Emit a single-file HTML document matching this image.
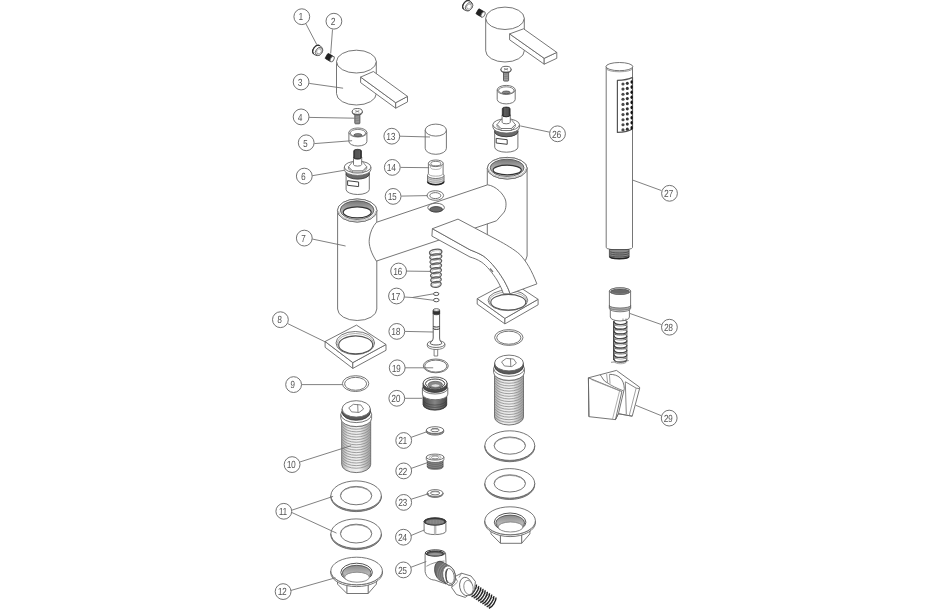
<!DOCTYPE html>
<html><head><meta charset="utf-8"><style>
html,body{margin:0;padding:0;background:#fff;width:950px;height:610px;overflow:hidden}
svg{display:block;font-family:"Liberation Sans",sans-serif;will-change:transform}
</style></head><body>
<svg width="950" height="610" viewBox="0 0 950 610">
<defs><linearGradient id="thg" x1="0" x2="1" y1="0" y2="0"><stop offset="0" stop-color="#aaa"/><stop offset="0.25" stop-color="#e8e8e8"/><stop offset="0.6" stop-color="#f0f0f0"/><stop offset="1" stop-color="#9a9a9a"/></linearGradient><linearGradient id="pwg" x1="0" x2="0" y1="0" y2="1"><stop offset="0" stop-color="#777"/><stop offset="0.6" stop-color="#bbb"/><stop offset="1" stop-color="#eee"/></linearGradient><linearGradient id="dkg" x1="0" x2="1" y1="0" y2="0"><stop offset="0" stop-color="#4a4a4a"/><stop offset="0.5" stop-color="#858585"/><stop offset="1" stop-color="#4a4a4a"/></linearGradient><linearGradient id="nthg" x1="0" x2="0" y1="0" y2="1"><stop offset="0" stop-color="#8a8a8a"/><stop offset="0.5" stop-color="#b5b5b5"/><stop offset="1" stop-color="#ddd"/></linearGradient></defs>
<rect width="950" height="610" fill="#fff"/>
<line x1="305.8" y1="23.6" x2="316.9" y2="44.8" stroke="#6a6a6a" stroke-width="0.85"/>
<circle cx="301.8" cy="16.7" r="7.9" fill="#fff" stroke="#6a6a6a" stroke-width="0.95"/>
<text transform="translate(300.7,20.4) skewX(-2) scale(0.8,1)" text-anchor="middle" font-size="10.3" fill="#555" font-family="Liberation Sans, sans-serif" letter-spacing="-0.3">1</text>
<line x1="332.5" y1="29.5" x2="330.7" y2="53.6" stroke="#6a6a6a" stroke-width="0.85"/>
<circle cx="333.9" cy="21.2" r="7.9" fill="#fff" stroke="#6a6a6a" stroke-width="0.95"/>
<text transform="translate(332.8,24.9) skewX(-2) scale(0.8,1)" text-anchor="middle" font-size="10.3" fill="#555" font-family="Liberation Sans, sans-serif" letter-spacing="-0.3">2</text>
<g transform="translate(318,50.7) rotate(35)">
<path d="M-1,-5.3 C-6,-5 -6.5,5 -1,5.3 L2,4.6 C5,3 5,-3 2,-4.6 Z" stroke="#444" stroke-width="0.9" fill="#fff" stroke-linejoin="round"/>
<path d="M-1.6,-5.1 C-6,-4.6 -6,4.6 -1.6,5.1" stroke="#333" stroke-width="1.2" fill="none" stroke-linejoin="round"/>
<ellipse cx="1.2" cy="0" rx="3.2" ry="4.3" fill="#fff" stroke="#555" stroke-width="0.8"/>
<polygon points="-0.6,-2 1.6,-3 3.4,-1 3,1.8 0.8,2.8 -1,1" stroke="#777" stroke-width="0.6" fill="none" stroke-linejoin="round"/>
</g>
<g transform="translate(329.9,57.8) rotate(30)">
<rect x="-4" y="-3" width="6.6" height="6" rx="0.8" fill="#222" stroke="#111" stroke-width="0.6"/>
<ellipse cx="2.6" cy="0" rx="1.7" ry="3" fill="#fff" stroke="#666" stroke-width="0.9"/>
</g>
<path d="M336.5,61.6 L336.5,93.6 A19.9,11.4 0 0 0 376.3,93.6 L376.3,61.6 Z" stroke="#666" stroke-width="0.9" fill="#fff" stroke-linejoin="round"/>
<ellipse cx="356.4" cy="61.6" rx="19.9" ry="11.4" fill="#fff" stroke="#666" stroke-width="0.9"/>
<polygon points="360.6,77.1 395.7,102.7 395.7,108.2 360.6,82.6" stroke="#666" stroke-width="0.9" fill="#fff" stroke-linejoin="round"/>
<polygon points="395.7,102.7 407.5,96.4 407.5,101.9 395.7,108.2" stroke="#666" stroke-width="0.9" fill="#fff" stroke-linejoin="round"/>
<polygon points="360.6,77.1 373.4,71.5 407.5,96.4 395.7,102.7" stroke="#666" stroke-width="0.9" fill="#fff" stroke-linejoin="round"/>
<line x1="309.2" y1="83.4" x2="343.1" y2="88.2" stroke="#6a6a6a" stroke-width="0.85"/>
<circle cx="301.1" cy="82" r="7.9" fill="#fff" stroke="#6a6a6a" stroke-width="0.95"/>
<text transform="translate(300,85.7) skewX(-2) scale(0.8,1)" text-anchor="middle" font-size="10.3" fill="#555" font-family="Liberation Sans, sans-serif" letter-spacing="-0.3">3</text>
<rect x="354.8" y="111.4" width="5.1" height="12.4" rx="0.8" fill="#a0a0a0" stroke="#444" stroke-width="0.8"/>
<line x1="354.9" y1="113.4" x2="359.8" y2="113.9" stroke="#666" stroke-width="0.5"/>
<line x1="354.9" y1="115.1" x2="359.8" y2="115.6" stroke="#666" stroke-width="0.5"/>
<line x1="354.9" y1="116.8" x2="359.8" y2="117.3" stroke="#666" stroke-width="0.5"/>
<line x1="354.9" y1="118.5" x2="359.8" y2="119" stroke="#666" stroke-width="0.5"/>
<line x1="354.9" y1="120.2" x2="359.8" y2="120.7" stroke="#666" stroke-width="0.5"/>
<line x1="354.9" y1="121.9" x2="359.8" y2="122.4" stroke="#666" stroke-width="0.5"/>
<path d="M352.3,111.4 A5,2.9 0 0 0 362.3,111.4 L362.3,112.4 A5,2.4 0 0 1 352.3,112.4 Z" stroke="#444" stroke-width="0.8" fill="#777" stroke-linejoin="round"/>
<ellipse cx="357.3" cy="111.4" rx="5" ry="2.9" fill="#fff" stroke="#555" stroke-width="0.9"/>
<line x1="355.3" y1="110.6" x2="359.3" y2="112.2" stroke="#777" stroke-width="0.8"/>
<line x1="355.3" y1="112.2" x2="359.3" y2="110.6" stroke="#777" stroke-width="0.8"/>
<line x1="309.2" y1="117.4" x2="354.6" y2="118.2" stroke="#6a6a6a" stroke-width="0.85"/>
<circle cx="301.1" cy="116.9" r="7.9" fill="#fff" stroke="#6a6a6a" stroke-width="0.95"/>
<text transform="translate(300,120.6) skewX(-2) scale(0.8,1)" text-anchor="middle" font-size="10.3" fill="#555" font-family="Liberation Sans, sans-serif" letter-spacing="-0.3">4</text>
<path d="M348.9,132.5 L348.9,141.5 A9,4.5 0 0 0 366.9,141.5 L366.9,132.5 Z" stroke="#666" stroke-width="0.9" fill="#fff" stroke-linejoin="round"/>
<ellipse cx="357.9" cy="132.5" rx="9" ry="4.5" fill="#fff" stroke="#666" stroke-width="0.9"/>
<ellipse cx="357.9" cy="133" rx="7.7" ry="3.6" fill="#fff" stroke="#666" stroke-width="0.8"/>
<path d="M353.9,135.1 A4,1.5 0 0 1 361.9,135.1 A4,1.2 0 0 1 353.9,135.1 Z" stroke="#444" stroke-width="0.7" fill="#888" stroke-linejoin="round"/>
<line x1="314.4" y1="143.6" x2="352.1" y2="140.7" stroke="#6a6a6a" stroke-width="0.85"/>
<circle cx="306.2" cy="142.8" r="7.9" fill="#fff" stroke="#6a6a6a" stroke-width="0.95"/>
<text transform="translate(305.1,146.5) skewX(-2) scale(0.8,1)" text-anchor="middle" font-size="10.3" fill="#555" font-family="Liberation Sans, sans-serif" letter-spacing="-0.3">5</text>
<path d="M346.1,174 L346.1,189.5 A11.6,5 0 0 0 369.3,189.5 L369.3,174 Z" stroke="#666" stroke-width="0.9" fill="#fff" stroke-linejoin="round"/>
<ellipse cx="357.7" cy="174" rx="11.6" ry="5" fill="#fff" stroke="#666" stroke-width="0.9"/>
<path d="M346.1,169.5 A11.6,5 0 0 0 369.3,169.5 L369.3,174 A11.6,5 0 0 1 346.1,174 Z" stroke="#333" stroke-width="0.7" fill="#6a6a6a" stroke-linejoin="round"/>
<polygon points="347.6,180.7 358.6,182 358.6,186.6 347.6,185.3" stroke="#444" stroke-width="1.0" fill="#fff" stroke-linejoin="round"/>
<path d="M344.3,167 L344.3,169.5 A13.3,5.9 0 0 0 370.9,169.5 L370.9,167 Z" stroke="#666" stroke-width="0.9" fill="#fff" stroke-linejoin="round"/>
<ellipse cx="357.6" cy="167" rx="13.3" ry="5.9" fill="#fff" stroke="#666" stroke-width="0.9"/>
<polygon points="348.5,166.8 352.4,170.8 362.8,170.8 366.7,166.8 366.7,168.8 362.8,172.8 352.4,172.8 348.5,168.8" stroke="#666" stroke-width="0.8" fill="#fff" stroke-linejoin="round"/>
<line x1="352.4" y1="170.8" x2="352.4" y2="172.8" stroke="#666" stroke-width="0.7"/>
<line x1="362.8" y1="170.8" x2="362.8" y2="172.8" stroke="#666" stroke-width="0.7"/>
<polygon points="348.5,166.8 352.6,161.7 362.6,161.7 366.7,166.8 362.8,170.8 352.4,170.8" stroke="#666" stroke-width="0.8" fill="#fff" stroke-linejoin="round"/>
<path d="M353.5,157.5 L353.5,164.5 A4.1,1.6 0 0 0 361.7,164.5 L361.7,157.5 Z" stroke="#666" stroke-width="0.9" fill="#fff" stroke-linejoin="round"/>
<ellipse cx="357.6" cy="157.5" rx="4.1" ry="1.6" fill="#fff" stroke="#666" stroke-width="0.9"/>
<path d="M353.7,151 Q353.7,149.3 357.6,149.3 Q361.5,149.3 361.5,151 L361.5,157.5 A3.9,1.5 0 0 1 353.7,157.5 Z" stroke="#222" stroke-width="0.7" fill="#3a3a3a" stroke-linejoin="round"/>
<line x1="355.8" y1="150.2" x2="355.8" y2="158.3" stroke="#888" stroke-width="0.5"/>
<line x1="357" y1="150.2" x2="357" y2="158.3" stroke="#888" stroke-width="0.5"/>
<line x1="358.2" y1="150.2" x2="358.2" y2="158.3" stroke="#888" stroke-width="0.5"/>
<line x1="359.4" y1="150.2" x2="359.4" y2="158.3" stroke="#888" stroke-width="0.5"/>
<line x1="312.3" y1="175.7" x2="344.3" y2="170.3" stroke="#6a6a6a" stroke-width="0.85"/>
<circle cx="304.3" cy="176.1" r="7.9" fill="#fff" stroke="#6a6a6a" stroke-width="0.95"/>
<text transform="translate(303.2,179.8) skewX(-2) scale(0.8,1)" text-anchor="middle" font-size="10.3" fill="#555" font-family="Liberation Sans, sans-serif" letter-spacing="-0.3">6</text>
<g transform="translate(468,6) rotate(35)">
<path d="M-1,-5.3 C-6,-5 -6.5,5 -1,5.3 L2,4.6 C5,3 5,-3 2,-4.6 Z" stroke="#444" stroke-width="0.9" fill="#fff" stroke-linejoin="round"/>
<path d="M-1.6,-5.1 C-6,-4.6 -6,4.6 -1.6,5.1" stroke="#333" stroke-width="1.2" fill="none" stroke-linejoin="round"/>
<ellipse cx="1.2" cy="0" rx="3.2" ry="4.3" fill="#fff" stroke="#555" stroke-width="0.8"/>
<polygon points="-0.6,-2 1.6,-3 3.4,-1 3,1.8 0.8,2.8 -1,1" stroke="#777" stroke-width="0.6" fill="none" stroke-linejoin="round"/>
</g>
<g transform="translate(480.8,13.2) rotate(30)">
<rect x="-4" y="-3" width="6.6" height="6" rx="0.8" fill="#222" stroke="#111" stroke-width="0.6"/>
<ellipse cx="2.6" cy="0" rx="1.7" ry="3" fill="#fff" stroke="#666" stroke-width="0.9"/>
</g>
<path d="M485.7,18.3 L485.7,50.8 A19.3,11.2 0 0 0 524.3,50.8 L524.3,18.3 Z" stroke="#666" stroke-width="0.9" fill="#fff" stroke-linejoin="round"/>
<ellipse cx="505" cy="18.3" rx="19.3" ry="11.2" fill="#fff" stroke="#666" stroke-width="0.9"/>
<polygon points="509.6,33.9 544.2,58.3 544.2,64.2 509.6,39.8" stroke="#666" stroke-width="0.9" fill="#fff" stroke-linejoin="round"/>
<polygon points="544.2,58.3 556.8,52.4 556.8,58.3 544.2,64.2" stroke="#666" stroke-width="0.9" fill="#fff" stroke-linejoin="round"/>
<polygon points="509.6,33.9 523.6,28.8 556.8,52.4 544.2,58.3" stroke="#666" stroke-width="0.9" fill="#fff" stroke-linejoin="round"/>
<rect x="503.5" y="69.2" width="5.1" height="11.9" rx="0.8" fill="#a0a0a0" stroke="#444" stroke-width="0.8"/>
<line x1="503.6" y1="71.2" x2="508.5" y2="71.7" stroke="#666" stroke-width="0.5"/>
<line x1="503.6" y1="72.9" x2="508.5" y2="73.4" stroke="#666" stroke-width="0.5"/>
<line x1="503.6" y1="74.6" x2="508.5" y2="75.1" stroke="#666" stroke-width="0.5"/>
<line x1="503.6" y1="76.3" x2="508.5" y2="76.8" stroke="#666" stroke-width="0.5"/>
<line x1="503.6" y1="78" x2="508.5" y2="78.5" stroke="#666" stroke-width="0.5"/>
<path d="M501,69.2 A5,2.9 0 0 0 511,69.2 L511,70.2 A5,2.4 0 0 1 501,70.2 Z" stroke="#444" stroke-width="0.8" fill="#777" stroke-linejoin="round"/>
<ellipse cx="506" cy="69.2" rx="5" ry="2.9" fill="#fff" stroke="#555" stroke-width="0.9"/>
<line x1="504" y1="68.4" x2="508" y2="70" stroke="#777" stroke-width="0.8"/>
<line x1="504" y1="70" x2="508" y2="68.4" stroke="#777" stroke-width="0.8"/>
<path d="M497.2,89.9 L497.2,99.4 A9,4.5 0 0 0 515.2,99.4 L515.2,89.9 Z" stroke="#666" stroke-width="0.9" fill="#fff" stroke-linejoin="round"/>
<ellipse cx="506.2" cy="89.9" rx="9" ry="4.5" fill="#fff" stroke="#666" stroke-width="0.9"/>
<ellipse cx="506.2" cy="90.4" rx="7.7" ry="3.6" fill="#fff" stroke="#666" stroke-width="0.8"/>
<path d="M502.2,92.5 A4,1.5 0 0 1 510.2,92.5 A4,1.2 0 0 1 502.2,92.5 Z" stroke="#444" stroke-width="0.7" fill="#888" stroke-linejoin="round"/>
<path d="M494.7,131.7 L494.7,147.2 A11.6,5 0 0 0 517.9,147.2 L517.9,131.7 Z" stroke="#666" stroke-width="0.9" fill="#fff" stroke-linejoin="round"/>
<ellipse cx="506.3" cy="131.7" rx="11.6" ry="5" fill="#fff" stroke="#666" stroke-width="0.9"/>
<path d="M494.7,127.2 A11.6,5 0 0 0 517.9,127.2 L517.9,131.7 A11.6,5 0 0 1 494.7,131.7 Z" stroke="#333" stroke-width="0.7" fill="#6a6a6a" stroke-linejoin="round"/>
<polygon points="496.2,138.4 507.2,139.7 507.2,144.3 496.2,143" stroke="#444" stroke-width="1.0" fill="#fff" stroke-linejoin="round"/>
<path d="M492.9,124.7 L492.9,127.2 A13.3,5.9 0 0 0 519.5,127.2 L519.5,124.7 Z" stroke="#666" stroke-width="0.9" fill="#fff" stroke-linejoin="round"/>
<ellipse cx="506.2" cy="124.7" rx="13.3" ry="5.9" fill="#fff" stroke="#666" stroke-width="0.9"/>
<polygon points="497.1,124.5 501,128.5 511.4,128.5 515.3,124.5 515.3,126.5 511.4,130.5 501,130.5 497.1,126.5" stroke="#666" stroke-width="0.8" fill="#fff" stroke-linejoin="round"/>
<line x1="501" y1="128.5" x2="501" y2="130.5" stroke="#666" stroke-width="0.7"/>
<line x1="511.4" y1="128.5" x2="511.4" y2="130.5" stroke="#666" stroke-width="0.7"/>
<polygon points="497.1,124.5 501.2,119.4 511.2,119.4 515.3,124.5 511.4,128.5 501,128.5" stroke="#666" stroke-width="0.8" fill="#fff" stroke-linejoin="round"/>
<path d="M502.1,115.2 L502.1,122.2 A4.1,1.6 0 0 0 510.3,122.2 L510.3,115.2 Z" stroke="#666" stroke-width="0.9" fill="#fff" stroke-linejoin="round"/>
<ellipse cx="506.2" cy="115.2" rx="4.1" ry="1.6" fill="#fff" stroke="#666" stroke-width="0.9"/>
<path d="M502.3,108.7 Q502.3,107 506.2,107 Q510.1,107 510.1,108.7 L510.1,115.2 A3.9,1.5 0 0 1 502.3,115.2 Z" stroke="#222" stroke-width="0.7" fill="#3a3a3a" stroke-linejoin="round"/>
<line x1="504.4" y1="107.9" x2="504.4" y2="116" stroke="#888" stroke-width="0.5"/>
<line x1="505.6" y1="107.9" x2="505.6" y2="116" stroke="#888" stroke-width="0.5"/>
<line x1="506.8" y1="107.9" x2="506.8" y2="116" stroke="#888" stroke-width="0.5"/>
<line x1="508" y1="107.9" x2="508" y2="116" stroke="#888" stroke-width="0.5"/>
<line x1="549.7" y1="132.2" x2="520.2" y2="125.9" stroke="#6a6a6a" stroke-width="0.85"/>
<circle cx="557.5" cy="133.8" r="7.9" fill="#fff" stroke="#6a6a6a" stroke-width="0.95"/>
<text transform="translate(556.4,137.5) skewX(-2) scale(0.8,1)" text-anchor="middle" font-size="10.3" fill="#555" font-family="Liberation Sans, sans-serif" letter-spacing="-0.3">26</text>
<path d="M487.3,168.2 L487.3,256 A19.9,10.8 0 0 0 527.1,256 L527.1,168.2 Z" stroke="#666" stroke-width="0.9" fill="#fff" stroke-linejoin="round"/>
<ellipse cx="507.2" cy="168.2" rx="19.9" ry="10.8" fill="#fff" stroke="#666" stroke-width="0.9"/>
<ellipse cx="507.2" cy="168.2" rx="19.9" ry="10.8" fill="#fff" stroke="#666" stroke-width="0.9"/>
<ellipse cx="507.1" cy="167.8" rx="16.9" ry="8.6" fill="url(#pwg)" stroke="#555" stroke-width="0.9"/>
<ellipse cx="507.2" cy="170" rx="14.1" ry="4.8" fill="#fff" stroke="#333" stroke-width="1.2"/>
<path d="M488.5,168.5 A18.7,9.2 0 0 0 525.9,168.5" stroke="#999" stroke-width="0.6" fill="none" stroke-linejoin="round"/>
<path d="M337.6,210.5 L337.6,309 A19.6,11.5 0 0 0 376.8,309 L376.8,210.5 Z" stroke="#666" stroke-width="0.9" fill="#fff" stroke-linejoin="round"/>
<ellipse cx="357.2" cy="210.5" rx="19.6" ry="11.5" fill="#fff" stroke="#666" stroke-width="0.9"/>
<ellipse cx="357.2" cy="210.5" rx="19.8" ry="11.5" fill="#fff" stroke="#666" stroke-width="0.9"/>
<ellipse cx="357.1" cy="210.1" rx="16.8" ry="9.3" fill="url(#pwg)" stroke="#555" stroke-width="0.9"/>
<ellipse cx="357.2" cy="212.3" rx="14" ry="5.5" fill="#fff" stroke="#333" stroke-width="1.2"/>
<path d="M338.6,210.8 A18.6,9.9 0 0 0 375.8,210.8" stroke="#999" stroke-width="0.6" fill="none" stroke-linejoin="round"/>
<path d="M376.5,222.3 L487.6,184.8 C496,186 503.5,194 505.5,200 C506.8,205 505.5,211 503.4,213 L496.5,220.8 L376.4,261.1 C371,253 368.5,245 369.3,239 C370,232 373,226 376.5,222.3 Z" stroke="#666" stroke-width="0.9" fill="#fff" stroke-linejoin="round"/>
<line x1="376.5" y1="222.3" x2="376.5" y2="222.3" stroke="#666" stroke-width="0.9"/>
<line x1="312.2" y1="239" x2="345.6" y2="246" stroke="#6a6a6a" stroke-width="0.85"/>
<circle cx="304.3" cy="238.1" r="7.9" fill="#fff" stroke="#6a6a6a" stroke-width="0.95"/>
<text transform="translate(303.2,241.8) skewX(-2) scale(0.8,1)" text-anchor="middle" font-size="10.3" fill="#555" font-family="Liberation Sans, sans-serif" letter-spacing="-0.3">7</text>
<polygon points="477.2,298.6 504.9,318.4 504.9,323.9 477.2,304.1" stroke="#666" stroke-width="0.9" fill="#fff" stroke-linejoin="round"/>
<polygon points="504.9,318.4 538.1,299.3 538.1,304.8 504.9,323.9" stroke="#666" stroke-width="0.9" fill="#fff" stroke-linejoin="round"/>
<polygon points="477.2,298.6 510.5,281 538.1,299.3 504.9,318.4" stroke="#666" stroke-width="0.9" fill="#fff" stroke-linejoin="round"/>
<ellipse cx="507.9" cy="300.3" rx="19.8" ry="10.3" fill="#fff" stroke="#666" stroke-width="0.9"/>
<ellipse cx="508" cy="301" rx="18.7" ry="9" fill="#fff" stroke="#888" stroke-width="0.7"/>
<ellipse cx="508.3" cy="302.2" rx="17.5" ry="7.8" fill="#fff" stroke="#555" stroke-width="1.1"/>
<path d="M432.4,228.7 L470,249.8 C478,253 483.1,255.1 487,259 C494.9,266.2 500,274 504.1,280.7 C507,286 509,290 510,293.8 L503.4,293.8 C502,289 500.2,285.9 497,280 C492.3,272.8 487,266 481.8,262.3 C477,259 473,258 470,257 L431.9,236.1 Z" stroke="#666" stroke-width="0.9" fill="#fff" stroke-linejoin="round"/>
<path d="M432.4,228.7 L458,219.1 L497.5,240 C505,244 514.7,249.7 519.8,254.4 C526.5,261.5 531.6,270.2 536.9,283.9 L510,293.8 C509,290 507,286 504.1,280.7 C500,274 494.9,266.2 487,259 C483.1,255.1 478,253 470,249.8 Z" stroke="#666" stroke-width="0.9" fill="#fff" stroke-linejoin="round"/>
<line x1="490" y1="268.5" x2="493" y2="272" stroke="#777" stroke-width="1.2"/>
<polygon points="325.1,341.5 352.8,362.6 352.8,368.4 325.1,347.3" stroke="#666" stroke-width="0.9" fill="#fff" stroke-linejoin="round"/>
<polygon points="352.8,362.6 386,344.5 386,350.3 352.8,368.4" stroke="#666" stroke-width="0.9" fill="#fff" stroke-linejoin="round"/>
<polygon points="325.1,341.5 356.5,325.1 386,344.5 352.8,362.6" stroke="#666" stroke-width="0.9" fill="#fff" stroke-linejoin="round"/>
<ellipse cx="355.3" cy="343" rx="19.3" ry="11.5" fill="#fff" stroke="#666" stroke-width="0.9"/>
<ellipse cx="355.4" cy="343.7" rx="18.2" ry="10.2" fill="#fff" stroke="#888" stroke-width="0.7"/>
<ellipse cx="355.7" cy="344.9" rx="17" ry="9" fill="#fff" stroke="#555" stroke-width="1.1"/>
<line x1="287.7" y1="323.6" x2="326.1" y2="342.3" stroke="#6a6a6a" stroke-width="0.85"/>
<circle cx="280.4" cy="319.7" r="7.9" fill="#fff" stroke="#6a6a6a" stroke-width="0.95"/>
<text transform="translate(279.3,323.4) skewX(-2) scale(0.8,1)" text-anchor="middle" font-size="10.3" fill="#555" font-family="Liberation Sans, sans-serif" letter-spacing="-0.3">8</text>
<ellipse cx="355.6" cy="383.6" rx="13.2" ry="7.9" fill="#fff" stroke="#666" stroke-width="0.9"/>
<ellipse cx="355.6" cy="383.8" rx="11" ry="6.47" fill="#fff" stroke="#666" stroke-width="0.9"/>
<line x1="301.5" y1="384.6" x2="342.4" y2="384.6" stroke="#6a6a6a" stroke-width="0.85"/>
<circle cx="293.6" cy="384.6" r="7.9" fill="#fff" stroke="#6a6a6a" stroke-width="0.95"/>
<text transform="translate(292.5,388.3) skewX(-2) scale(0.8,1)" text-anchor="middle" font-size="10.3" fill="#555" font-family="Liberation Sans, sans-serif" letter-spacing="-0.3">9</text>
<path d="M341.7,418.4 L341.7,464.4 A14.5,8.2 0 0 0 370.7,464.4 L370.7,418.4 Z" stroke="#666" stroke-width="0.9" fill="url(#thg)" stroke-linejoin="round"/>
<path d="M342.2,415.68 A14.5,7.79 0 0 0 370.2,415.68" stroke="#8f8f8f" stroke-width="0.85" fill="none" stroke-linejoin="round"/>
<path d="M342.2,418.28 A14.5,7.79 0 0 0 370.2,418.28" stroke="#8f8f8f" stroke-width="0.85" fill="none" stroke-linejoin="round"/>
<path d="M342.2,420.88 A14.5,7.79 0 0 0 370.2,420.88" stroke="#8f8f8f" stroke-width="0.85" fill="none" stroke-linejoin="round"/>
<path d="M342.2,423.48 A14.5,7.79 0 0 0 370.2,423.48" stroke="#8f8f8f" stroke-width="0.85" fill="none" stroke-linejoin="round"/>
<path d="M342.2,426.08 A14.5,7.79 0 0 0 370.2,426.08" stroke="#8f8f8f" stroke-width="0.85" fill="none" stroke-linejoin="round"/>
<path d="M342.2,428.68 A14.5,7.79 0 0 0 370.2,428.68" stroke="#8f8f8f" stroke-width="0.85" fill="none" stroke-linejoin="round"/>
<path d="M342.2,431.28 A14.5,7.79 0 0 0 370.2,431.28" stroke="#8f8f8f" stroke-width="0.85" fill="none" stroke-linejoin="round"/>
<path d="M342.2,433.88 A14.5,7.79 0 0 0 370.2,433.88" stroke="#8f8f8f" stroke-width="0.85" fill="none" stroke-linejoin="round"/>
<path d="M342.2,436.48 A14.5,7.79 0 0 0 370.2,436.48" stroke="#8f8f8f" stroke-width="0.85" fill="none" stroke-linejoin="round"/>
<path d="M342.2,439.08 A14.5,7.79 0 0 0 370.2,439.08" stroke="#8f8f8f" stroke-width="0.85" fill="none" stroke-linejoin="round"/>
<path d="M342.2,441.68 A14.5,7.79 0 0 0 370.2,441.68" stroke="#8f8f8f" stroke-width="0.85" fill="none" stroke-linejoin="round"/>
<path d="M342.2,444.28 A14.5,7.79 0 0 0 370.2,444.28" stroke="#8f8f8f" stroke-width="0.85" fill="none" stroke-linejoin="round"/>
<path d="M342.2,446.88 A14.5,7.79 0 0 0 370.2,446.88" stroke="#8f8f8f" stroke-width="0.85" fill="none" stroke-linejoin="round"/>
<path d="M342.2,449.48 A14.5,7.79 0 0 0 370.2,449.48" stroke="#8f8f8f" stroke-width="0.85" fill="none" stroke-linejoin="round"/>
<path d="M342.2,452.08 A14.5,7.79 0 0 0 370.2,452.08" stroke="#8f8f8f" stroke-width="0.85" fill="none" stroke-linejoin="round"/>
<path d="M342.2,454.68 A14.5,7.79 0 0 0 370.2,454.68" stroke="#8f8f8f" stroke-width="0.85" fill="none" stroke-linejoin="round"/>
<path d="M342.2,457.28 A14.5,7.79 0 0 0 370.2,457.28" stroke="#8f8f8f" stroke-width="0.85" fill="none" stroke-linejoin="round"/>
<path d="M342.2,459.88 A14.5,7.79 0 0 0 370.2,459.88" stroke="#8f8f8f" stroke-width="0.85" fill="none" stroke-linejoin="round"/>
<path d="M342.2,462.48 A14.5,7.79 0 0 0 370.2,462.48" stroke="#8f8f8f" stroke-width="0.85" fill="none" stroke-linejoin="round"/>
<path d="M340.8,414.4 L340.8,418.4 A15.4,8.2 0 0 0 371.6,418.4 L371.6,414.4 Z" stroke="#666" stroke-width="0.9" fill="#fff" stroke-linejoin="round"/>
<ellipse cx="356.2" cy="414.4" rx="15.4" ry="8.2" fill="#fff" stroke="#666" stroke-width="0.9"/>
<path d="M342.1,408.9 L342.1,412.1 A14.1,8.2 0 0 0 370.3,412.1 L370.3,408.9 Z" stroke="#333" stroke-width="0.8" fill="#5a5a5a" stroke-linejoin="round"/>
<ellipse cx="356.2" cy="408.9" rx="14.1" ry="8.2" fill="#fff" stroke="#666" stroke-width="0.9"/>
<polygon points="363.63,409.01 359.01,412.48 351.58,411.87 348.77,407.79 353.39,404.32 360.82,404.93" stroke="#666" stroke-width="0.8" fill="#fff" stroke-linejoin="round"/>
<line x1="357.7" y1="404.4" x2="358" y2="412.4" stroke="#666" stroke-width="0.8"/>
<line x1="299.5" y1="462.1" x2="351.1" y2="445.7" stroke="#6a6a6a" stroke-width="0.85"/>
<circle cx="292.1" cy="464.6" r="7.9" fill="#fff" stroke="#6a6a6a" stroke-width="0.95"/>
<text transform="translate(291,468.3) skewX(-2) scale(0.8,1)" text-anchor="middle" font-size="10.3" fill="#555" font-family="Liberation Sans, sans-serif" letter-spacing="-0.3">10</text>
<path d="M330.9,495.6 A25.2,14.7 0 0 0 381.3,495.6 L381.3,496.9 A25.2,14.7 0 0 1 330.9,496.9 Z" stroke="#666" stroke-width="0.9" fill="#999" stroke-linejoin="round"/>
<ellipse cx="356.1" cy="495.6" rx="25.2" ry="14.7" fill="#fff" stroke="#666" stroke-width="0.9"/>
<ellipse cx="356.1" cy="495.6" rx="15.7" ry="9.2" fill="#fff" stroke="#666" stroke-width="0.9"/>
<path d="M340.7,495.6 A15.4,8.6 0 0 1 371.5,495.6" stroke="#888" stroke-width="0.8" fill="none" stroke-linejoin="round"/>
<path d="M330.9,533.6 A25.2,14.7 0 0 0 381.3,533.6 L381.3,534.9 A25.2,14.7 0 0 1 330.9,534.9 Z" stroke="#666" stroke-width="0.9" fill="#999" stroke-linejoin="round"/>
<ellipse cx="356.1" cy="533.6" rx="25.2" ry="14.7" fill="#fff" stroke="#666" stroke-width="0.9"/>
<ellipse cx="356.1" cy="533.6" rx="15.7" ry="9.4" fill="#fff" stroke="#666" stroke-width="0.9"/>
<path d="M340.7,533.6 A15.4,8.8 0 0 1 371.5,533.6" stroke="#888" stroke-width="0.8" fill="none" stroke-linejoin="round"/>
<line x1="291.8" y1="510.2" x2="333.1" y2="496.4" stroke="#6a6a6a" stroke-width="0.85"/>
<line x1="291.8" y1="512.5" x2="336.5" y2="533.1" stroke="#6a6a6a" stroke-width="0.85"/>
<circle cx="283.8" cy="511.3" r="7.9" fill="#fff" stroke="#6a6a6a" stroke-width="0.95"/>
<text transform="translate(282.7,515) skewX(-2) scale(0.8,1)" text-anchor="middle" font-size="10.3" fill="#555" font-family="Liberation Sans, sans-serif" letter-spacing="-0.3">11</text>
<polygon points="337.5,580 337.5,584.1 346.9,593.5 368.2,593.5 376.4,584.1 376.4,580" stroke="#666" stroke-width="0.9" fill="#fff" stroke-linejoin="round"/>
<line x1="346.9" y1="584.5" x2="346.9" y2="593.5" stroke="#666" stroke-width="1.0"/>
<line x1="368.2" y1="584.5" x2="368.2" y2="593.5" stroke="#666" stroke-width="1.0"/>
<path d="M330.8,571 A25.8,13.8 0 0 0 382.4,571 L382.4,572.8 A25.8,13.8 0 0 1 330.8,572.8 Z" stroke="#666" stroke-width="0.9" fill="#fff" stroke-linejoin="round"/>
<ellipse cx="356.6" cy="571" rx="25.8" ry="13.8" fill="#fff" stroke="#666" stroke-width="0.9"/>
<ellipse cx="356.6" cy="572.4" rx="15.8" ry="9.2" fill="#fff" stroke="#555" stroke-width="1.0"/>
<ellipse cx="356.7" cy="573.2" rx="14.4" ry="7.9" fill="url(#nthg)" stroke="#444" stroke-width="0.8"/>
<path d="M343,572.2 A13.8,6.8 0 0 0 370.6,572.2" stroke="#999" stroke-width="0.5" fill="none" stroke-linejoin="round"/>
<path d="M343.4,573.8 A13.4,6.5 0 0 0 370.2,573.8" stroke="#999" stroke-width="0.5" fill="none" stroke-linejoin="round"/>
<path d="M343.8,575.4 A13,6.2 0 0 0 369.8,575.4" stroke="#999" stroke-width="0.5" fill="none" stroke-linejoin="round"/>
<ellipse cx="357" cy="577.2" rx="12.4" ry="5" fill="#fff" stroke="#777" stroke-width="0.8"/>
<line x1="290.7" y1="590.5" x2="335.4" y2="577.8" stroke="#6a6a6a" stroke-width="0.85"/>
<circle cx="283.1" cy="591.6" r="7.9" fill="#fff" stroke="#6a6a6a" stroke-width="0.95"/>
<text transform="translate(282,595.3) skewX(-2) scale(0.8,1)" text-anchor="middle" font-size="10.3" fill="#555" font-family="Liberation Sans, sans-serif" letter-spacing="-0.3">12</text>
<ellipse cx="508.8" cy="337.5" rx="14.2" ry="7.9" fill="#fff" stroke="#666" stroke-width="0.9"/>
<ellipse cx="508.8" cy="337.7" rx="12.1" ry="6.54" fill="#fff" stroke="#666" stroke-width="0.9"/>
<path d="M494.5,372.5 L494.5,417.1 A14.5,7.9 0 0 0 523.5,417.1 L523.5,372.5 Z" stroke="#666" stroke-width="0.9" fill="url(#thg)" stroke-linejoin="round"/>
<path d="M495,369.96 A14.5,7.5 0 0 0 523,369.96" stroke="#8f8f8f" stroke-width="0.85" fill="none" stroke-linejoin="round"/>
<path d="M495,372.56 A14.5,7.5 0 0 0 523,372.56" stroke="#8f8f8f" stroke-width="0.85" fill="none" stroke-linejoin="round"/>
<path d="M495,375.16 A14.5,7.5 0 0 0 523,375.16" stroke="#8f8f8f" stroke-width="0.85" fill="none" stroke-linejoin="round"/>
<path d="M495,377.76 A14.5,7.5 0 0 0 523,377.76" stroke="#8f8f8f" stroke-width="0.85" fill="none" stroke-linejoin="round"/>
<path d="M495,380.36 A14.5,7.5 0 0 0 523,380.36" stroke="#8f8f8f" stroke-width="0.85" fill="none" stroke-linejoin="round"/>
<path d="M495,382.96 A14.5,7.5 0 0 0 523,382.96" stroke="#8f8f8f" stroke-width="0.85" fill="none" stroke-linejoin="round"/>
<path d="M495,385.56 A14.5,7.5 0 0 0 523,385.56" stroke="#8f8f8f" stroke-width="0.85" fill="none" stroke-linejoin="round"/>
<path d="M495,388.16 A14.5,7.5 0 0 0 523,388.16" stroke="#8f8f8f" stroke-width="0.85" fill="none" stroke-linejoin="round"/>
<path d="M495,390.76 A14.5,7.5 0 0 0 523,390.76" stroke="#8f8f8f" stroke-width="0.85" fill="none" stroke-linejoin="round"/>
<path d="M495,393.36 A14.5,7.5 0 0 0 523,393.36" stroke="#8f8f8f" stroke-width="0.85" fill="none" stroke-linejoin="round"/>
<path d="M495,395.96 A14.5,7.5 0 0 0 523,395.96" stroke="#8f8f8f" stroke-width="0.85" fill="none" stroke-linejoin="round"/>
<path d="M495,398.56 A14.5,7.5 0 0 0 523,398.56" stroke="#8f8f8f" stroke-width="0.85" fill="none" stroke-linejoin="round"/>
<path d="M495,401.16 A14.5,7.5 0 0 0 523,401.16" stroke="#8f8f8f" stroke-width="0.85" fill="none" stroke-linejoin="round"/>
<path d="M495,403.76 A14.5,7.5 0 0 0 523,403.76" stroke="#8f8f8f" stroke-width="0.85" fill="none" stroke-linejoin="round"/>
<path d="M495,406.36 A14.5,7.5 0 0 0 523,406.36" stroke="#8f8f8f" stroke-width="0.85" fill="none" stroke-linejoin="round"/>
<path d="M495,408.96 A14.5,7.5 0 0 0 523,408.96" stroke="#8f8f8f" stroke-width="0.85" fill="none" stroke-linejoin="round"/>
<path d="M495,411.56 A14.5,7.5 0 0 0 523,411.56" stroke="#8f8f8f" stroke-width="0.85" fill="none" stroke-linejoin="round"/>
<path d="M495,414.16 A14.5,7.5 0 0 0 523,414.16" stroke="#8f8f8f" stroke-width="0.85" fill="none" stroke-linejoin="round"/>
<path d="M495,416.76 A14.5,7.5 0 0 0 523,416.76" stroke="#8f8f8f" stroke-width="0.85" fill="none" stroke-linejoin="round"/>
<path d="M493.6,368.5 L493.6,372.5 A15.4,7.9 0 0 0 524.4,372.5 L524.4,368.5 Z" stroke="#666" stroke-width="0.9" fill="#fff" stroke-linejoin="round"/>
<ellipse cx="509" cy="368.5" rx="15.4" ry="7.9" fill="#fff" stroke="#666" stroke-width="0.9"/>
<path d="M494.6,363 L494.6,366.2 A14.4,7.9 0 0 0 523.4,366.2 L523.4,363 Z" stroke="#333" stroke-width="0.8" fill="#5a5a5a" stroke-linejoin="round"/>
<ellipse cx="509" cy="363" rx="14.4" ry="7.9" fill="#fff" stroke="#666" stroke-width="0.9"/>
<polygon points="516.43,363.11 511.81,366.58 504.38,365.97 501.57,361.89 506.19,358.42 513.62,359.03" stroke="#666" stroke-width="0.8" fill="#fff" stroke-linejoin="round"/>
<line x1="510.5" y1="358.5" x2="510.8" y2="366.5" stroke="#666" stroke-width="0.8"/>
<path d="M484.9,445.6 A24.9,14.8 0 0 0 534.7,445.6 L534.7,446.9 A24.9,14.8 0 0 1 484.9,446.9 Z" stroke="#666" stroke-width="0.9" fill="#999" stroke-linejoin="round"/>
<ellipse cx="509.8" cy="445.6" rx="24.9" ry="14.8" fill="#fff" stroke="#666" stroke-width="0.9"/>
<ellipse cx="509.8" cy="445.6" rx="15.7" ry="8.6" fill="#fff" stroke="#666" stroke-width="0.9"/>
<path d="M494.4,445.6 A15.4,8 0 0 1 525.2,445.6" stroke="#888" stroke-width="0.8" fill="none" stroke-linejoin="round"/>
<path d="M484.9,483.4 A24.9,14.8 0 0 0 534.7,483.4 L534.7,484.7 A24.9,14.8 0 0 1 484.9,484.7 Z" stroke="#666" stroke-width="0.9" fill="#999" stroke-linejoin="round"/>
<ellipse cx="509.8" cy="483.4" rx="24.9" ry="14.8" fill="#fff" stroke="#666" stroke-width="0.9"/>
<ellipse cx="509.8" cy="483.4" rx="15.7" ry="8.6" fill="#fff" stroke="#666" stroke-width="0.9"/>
<path d="M494.4,483.4 A15.4,8 0 0 1 525.2,483.4" stroke="#888" stroke-width="0.8" fill="none" stroke-linejoin="round"/>
<polygon points="491,529.8 491,533.9 500.4,543.3 521.7,543.3 529.9,533.9 529.9,529.8" stroke="#666" stroke-width="0.9" fill="#fff" stroke-linejoin="round"/>
<line x1="500.4" y1="534.3" x2="500.4" y2="543.3" stroke="#666" stroke-width="1.0"/>
<line x1="521.7" y1="534.3" x2="521.7" y2="543.3" stroke="#666" stroke-width="1.0"/>
<path d="M484.8,520.8 A25.3,14 0 0 0 535.4,520.8 L535.4,522.6 A25.3,14 0 0 1 484.8,522.6 Z" stroke="#666" stroke-width="0.9" fill="#fff" stroke-linejoin="round"/>
<ellipse cx="510.1" cy="520.8" rx="25.3" ry="14" fill="#fff" stroke="#666" stroke-width="0.9"/>
<ellipse cx="510.1" cy="522.2" rx="15.8" ry="9.2" fill="#fff" stroke="#555" stroke-width="1.0"/>
<ellipse cx="510.2" cy="523" rx="14.4" ry="7.9" fill="url(#nthg)" stroke="#444" stroke-width="0.8"/>
<path d="M496.5,522 A13.8,6.8 0 0 0 524.1,522" stroke="#999" stroke-width="0.5" fill="none" stroke-linejoin="round"/>
<path d="M496.9,523.6 A13.4,6.5 0 0 0 523.7,523.6" stroke="#999" stroke-width="0.5" fill="none" stroke-linejoin="round"/>
<path d="M497.3,525.2 A13,6.2 0 0 0 523.3,525.2" stroke="#999" stroke-width="0.5" fill="none" stroke-linejoin="round"/>
<ellipse cx="510.5" cy="527" rx="12.4" ry="5" fill="#fff" stroke="#777" stroke-width="0.8"/>
<path d="M425.2,130.1 L425.2,148.3 A10.6,6 0 0 0 446.4,148.3 L446.4,130.1 Z" stroke="#666" stroke-width="0.9" fill="#fff" stroke-linejoin="round"/>
<ellipse cx="435.8" cy="130.1" rx="10.6" ry="6" fill="#fff" stroke="#666" stroke-width="0.9"/>
<line x1="399.7" y1="136.2" x2="430" y2="137" stroke="#6a6a6a" stroke-width="0.85"/>
<circle cx="391.8" cy="136.2" r="7.9" fill="#fff" stroke="#6a6a6a" stroke-width="0.95"/>
<text transform="translate(390.7,139.9) skewX(-2) scale(0.8,1)" text-anchor="middle" font-size="10.3" fill="#555" font-family="Liberation Sans, sans-serif" letter-spacing="-0.3">13</text>
<path d="M427.5,175.5 L427.5,181.6 A8.25,3 0 0 0 444,181.6 L444,175.5 Z" stroke="#666" stroke-width="0.9" fill="#d8d8d8" stroke-linejoin="round"/>
<path d="M427.65,177.6 A8.1,2.6 0 0 0 443.85,177.6" stroke="#8a8a8a" stroke-width="0.7" fill="none" stroke-linejoin="round"/>
<path d="M427.65,179.6 A8.1,2.6 0 0 0 443.85,179.6" stroke="#8a8a8a" stroke-width="0.7" fill="none" stroke-linejoin="round"/>
<path d="M427.6,181.6 A8.15,3.1 0 0 0 443.9,181.6" stroke="#222" stroke-width="1.6" fill="none" stroke-linejoin="round"/>
<path d="M428.4,163.3 L428.4,173.5 C428,174.5 427.5,175 427.5,175.5 A8.25,3 0 0 0 444,175.5 C444,175 443.5,174.5 443.1,173.5 L443.1,163.3 Z" stroke="#666" stroke-width="0.9" fill="#fff" stroke-linejoin="round"/>
<path d="M428.4,173.5 A7.4,3 0 0 0 443.1,173.5" stroke="#888" stroke-width="0.7" fill="none" stroke-linejoin="round"/>
<ellipse cx="435.8" cy="163.3" rx="7.4" ry="3.3" fill="#fff" stroke="#666" stroke-width="0.9"/>
<ellipse cx="435.8" cy="163.6" rx="5" ry="2.2" fill="#fff" stroke="#666" stroke-width="0.8"/>
<path d="M430.5,164.5 L430.5,167.5 A5.3,2 0 0 0 441.1,167.5 L441.1,164.5" stroke="#999" stroke-width="0.7" fill="none" stroke-linejoin="round"/>
<line x1="400.5" y1="167.4" x2="429.2" y2="167.7" stroke="#6a6a6a" stroke-width="0.85"/>
<circle cx="392.3" cy="167.4" r="7.9" fill="#fff" stroke="#6a6a6a" stroke-width="0.95"/>
<text transform="translate(391.2,171.1) skewX(-2) scale(0.8,1)" text-anchor="middle" font-size="10.3" fill="#555" font-family="Liberation Sans, sans-serif" letter-spacing="-0.3">14</text>
<ellipse cx="435.3" cy="195.5" rx="8.3" ry="4.8" fill="#fff" stroke="#666" stroke-width="0.9"/>
<ellipse cx="435.3" cy="195.6" rx="5.5" ry="3" fill="#fff" stroke="#666" stroke-width="0.9"/>
<line x1="401.3" y1="196.1" x2="427.5" y2="195.6" stroke="#6a6a6a" stroke-width="0.85"/>
<circle cx="393.1" cy="196.4" r="7.9" fill="#fff" stroke="#6a6a6a" stroke-width="0.95"/>
<text transform="translate(392,200.1) skewX(-2) scale(0.8,1)" text-anchor="middle" font-size="10.3" fill="#555" font-family="Liberation Sans, sans-serif" letter-spacing="-0.3">15</text>
<ellipse cx="436.1" cy="207.6" rx="8.3" ry="4.4" fill="#fff" stroke="#666" stroke-width="0.9"/>
<ellipse cx="436.1" cy="209.3" rx="6.4" ry="2.7" fill="#6a6a6a" stroke="#333" stroke-width="0.8"/>
<ellipse cx="435.7" cy="252.2" rx="6.2" ry="2.9" transform="rotate(-8 435.7 252.2)" fill="none" stroke="#5e5e5e" stroke-width="1.3"/>
<ellipse cx="435.7" cy="252.5" rx="4.8" ry="1.7" transform="rotate(-8 435.7 252.2)" fill="none" stroke="#aaa" stroke-width="0.6"/>
<ellipse cx="435.75" cy="256.8" rx="6.05" ry="2.9" transform="rotate(-8 435.75 256.8)" fill="none" stroke="#5e5e5e" stroke-width="1.3"/>
<ellipse cx="435.75" cy="257.1" rx="4.65" ry="1.7" transform="rotate(-8 435.75 256.8)" fill="none" stroke="#aaa" stroke-width="0.6"/>
<ellipse cx="435.8" cy="261.4" rx="5.9" ry="2.9" transform="rotate(-8 435.8 261.4)" fill="none" stroke="#5e5e5e" stroke-width="1.3"/>
<ellipse cx="435.8" cy="261.7" rx="4.5" ry="1.7" transform="rotate(-8 435.8 261.4)" fill="none" stroke="#aaa" stroke-width="0.6"/>
<ellipse cx="435.85" cy="266" rx="5.75" ry="2.9" transform="rotate(-8 435.85 266)" fill="none" stroke="#5e5e5e" stroke-width="1.3"/>
<ellipse cx="435.85" cy="266.3" rx="4.35" ry="1.7" transform="rotate(-8 435.85 266)" fill="none" stroke="#aaa" stroke-width="0.6"/>
<ellipse cx="435.9" cy="270.6" rx="5.6" ry="2.9" transform="rotate(-8 435.9 270.6)" fill="none" stroke="#5e5e5e" stroke-width="1.3"/>
<ellipse cx="435.9" cy="270.9" rx="4.2" ry="1.7" transform="rotate(-8 435.9 270.6)" fill="none" stroke="#aaa" stroke-width="0.6"/>
<ellipse cx="435.95" cy="275.2" rx="5.45" ry="2.9" transform="rotate(-8 435.95 275.2)" fill="none" stroke="#5e5e5e" stroke-width="1.3"/>
<ellipse cx="435.95" cy="275.5" rx="4.05" ry="1.7" transform="rotate(-8 435.95 275.2)" fill="none" stroke="#aaa" stroke-width="0.6"/>
<ellipse cx="436" cy="279.8" rx="5.3" ry="2.9" transform="rotate(-8 436 279.8)" fill="none" stroke="#5e5e5e" stroke-width="1.3"/>
<ellipse cx="436" cy="280.1" rx="3.9" ry="1.7" transform="rotate(-8 436 279.8)" fill="none" stroke="#aaa" stroke-width="0.6"/>
<ellipse cx="436.05" cy="284.4" rx="5.15" ry="2.9" transform="rotate(-8 436.05 284.4)" fill="none" stroke="#5e5e5e" stroke-width="1.3"/>
<ellipse cx="436.05" cy="284.7" rx="3.75" ry="1.7" transform="rotate(-8 436.05 284.4)" fill="none" stroke="#aaa" stroke-width="0.6"/>
<line x1="406.4" y1="271.1" x2="430.5" y2="271.4" stroke="#6a6a6a" stroke-width="0.85"/>
<circle cx="398.6" cy="271" r="7.9" fill="#fff" stroke="#6a6a6a" stroke-width="0.95"/>
<text transform="translate(397.5,274.7) skewX(-2) scale(0.8,1)" text-anchor="middle" font-size="10.3" fill="#555" font-family="Liberation Sans, sans-serif" letter-spacing="-0.3">16</text>
<ellipse cx="436.2" cy="293.9" rx="2.7" ry="1.6" fill="#fff" stroke="#555" stroke-width="1.0"/>
<ellipse cx="436.3" cy="300.1" rx="2.8" ry="1.7" fill="#fff" stroke="#555" stroke-width="1.0"/>
<line x1="404.2" y1="297" x2="412.3" y2="297.5" stroke="#6a6a6a" stroke-width="0.85"/>
<line x1="412.3" y1="297.5" x2="433.7" y2="293.8" stroke="#6a6a6a" stroke-width="0.85"/>
<line x1="412.3" y1="297.5" x2="433.6" y2="300.3" stroke="#6a6a6a" stroke-width="0.85"/>
<circle cx="396.5" cy="296" r="7.9" fill="#fff" stroke="#6a6a6a" stroke-width="0.95"/>
<text transform="translate(395.4,299.7) skewX(-2) scale(0.8,1)" text-anchor="middle" font-size="10.3" fill="#555" font-family="Liberation Sans, sans-serif" letter-spacing="-0.3">17</text>
<path d="M434.1,349 L434.1,356 L437.7,356 L437.7,349 Z" stroke="#666" stroke-width="0.8" fill="#fff" stroke-linejoin="round"/>
<path d="M427.3,344 L427.3,346 A8.8,3.5 0 0 0 444.9,346 L444.9,344 Z" stroke="#666" stroke-width="0.8" fill="#fff" stroke-linejoin="round"/>
<ellipse cx="436.1" cy="344" rx="8.8" ry="3.5" fill="#fff" stroke="#666" stroke-width="0.9"/>
<path d="M433.2,310 L433.2,338 C433,341 431,342 430,343 A6,2 0 0 0 442,343 C441,342 439.6,341 439.6,338 L439.6,310 Z" stroke="#555" stroke-width="0.95" fill="#fff" stroke-linejoin="round"/>
<path d="M433.2,310.5 L433.2,313.6 A3.2,1.2 0 0 0 439.6,313.6 L439.6,310.5 Z" stroke="#222" stroke-width="0.6" fill="#333" stroke-linejoin="round"/>
<path d="M433.2,326 A3.2,1.1 0 0 0 439.6,326" stroke="#333" stroke-width="1.0" fill="none" stroke-linejoin="round"/>
<path d="M433.2,328.3 A3.2,1.1 0 0 0 439.6,328.3" stroke="#333" stroke-width="1.0" fill="none" stroke-linejoin="round"/>
<ellipse cx="436.4" cy="310" rx="3.2" ry="1.3" fill="#fff" stroke="#555" stroke-width="0.9"/>
<line x1="404.7" y1="331.4" x2="433.2" y2="332" stroke="#6a6a6a" stroke-width="0.85"/>
<circle cx="396.8" cy="331.4" r="7.9" fill="#fff" stroke="#6a6a6a" stroke-width="0.95"/>
<text transform="translate(395.7,335.1) skewX(-2) scale(0.8,1)" text-anchor="middle" font-size="10.3" fill="#555" font-family="Liberation Sans, sans-serif" letter-spacing="-0.3">18</text>
<ellipse cx="435.8" cy="365.9" rx="12.5" ry="6.9" fill="#fff" stroke="#666" stroke-width="0.9"/>
<ellipse cx="435.8" cy="366.1" rx="11.1" ry="5.99" fill="#fff" stroke="#666" stroke-width="0.9"/>
<line x1="404.7" y1="367.8" x2="433.2" y2="367.8" stroke="#6a6a6a" stroke-width="0.85"/>
<circle cx="397.2" cy="367.8" r="7.9" fill="#fff" stroke="#6a6a6a" stroke-width="0.95"/>
<text transform="translate(396.1,371.5) skewX(-2) scale(0.8,1)" text-anchor="middle" font-size="10.3" fill="#555" font-family="Liberation Sans, sans-serif" letter-spacing="-0.3">19</text>
<path d="M423.1,394 L423.1,404.5 A11.8,5.6 0 0 0 446.7,404.5 L446.7,394 Z" stroke="#333" stroke-width="0.9" fill="url(#dkg)" stroke-linejoin="round"/>
<path d="M423.3,399.8 A11.6,5.3 0 0 0 446.5,399.8" stroke="#3a3a3a" stroke-width="0.6" fill="none" stroke-linejoin="round"/>
<path d="M423.3,402.1 A11.6,5.3 0 0 0 446.5,402.1" stroke="#3a3a3a" stroke-width="0.6" fill="none" stroke-linejoin="round"/>
<path d="M423.3,404.4 A11.6,5.3 0 0 0 446.5,404.4" stroke="#3a3a3a" stroke-width="0.6" fill="none" stroke-linejoin="round"/>
<path d="M422.4,387.6 L422.4,394.2 A12.7,5.6 0 0 0 447.8,394.2 L447.8,387.6 Z" stroke="#666" stroke-width="0.9" fill="#fff" stroke-linejoin="round"/>
<path d="M422.5,388.4 A12.6,5.6 0 0 0 447.7,388.4" stroke="#555" stroke-width="0.8" fill="none" stroke-linejoin="round"/>
<path d="M423.1,383.1 L423.1,386.6 A12,5.8 0 0 0 447.1,386.6 L447.1,383.1 Z" stroke="#333" stroke-width="0.9" fill="#4a4a4a" stroke-linejoin="round"/>
<ellipse cx="435.1" cy="383.1" rx="12" ry="6.1" fill="#fff" stroke="#444" stroke-width="0.9"/>
<ellipse cx="435.1" cy="383.6" rx="9.6" ry="4.6" fill="#fff" stroke="#444" stroke-width="1.0"/>
<ellipse cx="435.3" cy="384.6" rx="7.2" ry="3.3" fill="#8a8a8a" stroke="#555" stroke-width="0.7"/>
<ellipse cx="435.5" cy="385.6" rx="4.2" ry="1.7" fill="#e0e0e0" stroke="#777" stroke-width="0.5"/>
<line x1="404.7" y1="398.3" x2="422.3" y2="398.3" stroke="#6a6a6a" stroke-width="0.85"/>
<circle cx="396.8" cy="398.3" r="7.9" fill="#fff" stroke="#6a6a6a" stroke-width="0.95"/>
<text transform="translate(395.7,402) skewX(-2) scale(0.8,1)" text-anchor="middle" font-size="10.3" fill="#555" font-family="Liberation Sans, sans-serif" letter-spacing="-0.3">20</text>
<path d="M426.3,430.1 A8.7,3.4 0 0 0 443.7,430.1 L443.7,431.7 A8.7,3.4 0 0 1 426.3,431.7 Z" stroke="#666" stroke-width="0.9" fill="#999" stroke-linejoin="round"/>
<ellipse cx="435" cy="430.1" rx="8.7" ry="3.4" fill="#fff" stroke="#666" stroke-width="0.9"/>
<ellipse cx="435" cy="430.1" rx="4.2" ry="1.7" fill="#fff" stroke="#666" stroke-width="0.9"/>
<path d="M431.1,430.1 A3.9,1.1 0 0 1 438.9,430.1" stroke="#888" stroke-width="0.8" fill="none" stroke-linejoin="round"/>
<line x1="410.6" y1="437.5" x2="427.3" y2="431.6" stroke="#6a6a6a" stroke-width="0.85"/>
<circle cx="403.7" cy="440.5" r="7.9" fill="#fff" stroke="#6a6a6a" stroke-width="0.95"/>
<text transform="translate(402.6,444.2) skewX(-2) scale(0.8,1)" text-anchor="middle" font-size="10.3" fill="#555" font-family="Liberation Sans, sans-serif" letter-spacing="-0.3">21</text>
<path d="M427.3,459 L427.3,467 A7.9,2.5 0 0 0 443,467 L443,459 Z" stroke="#333" stroke-width="0.8" fill="#666" stroke-linejoin="round"/>
<path d="M427.2,461 A7.9,2.3 0 0 0 443,461" stroke="#aaa" stroke-width="0.5" fill="none" stroke-linejoin="round"/>
<path d="M427.2,463 A7.9,2.3 0 0 0 443,463" stroke="#aaa" stroke-width="0.5" fill="none" stroke-linejoin="round"/>
<path d="M427.2,465 A7.9,2.3 0 0 0 443,465" stroke="#aaa" stroke-width="0.5" fill="none" stroke-linejoin="round"/>
<path d="M427.2,467 A7.9,2.3 0 0 0 443,467" stroke="#aaa" stroke-width="0.5" fill="none" stroke-linejoin="round"/>
<path d="M426.3,457.1 L426.3,459.5 A8.8,3 0 0 0 443.9,459.5 L443.9,457.1 Z" stroke="#666" stroke-width="0.9" fill="#fff" stroke-linejoin="round"/>
<ellipse cx="435.1" cy="457.1" rx="8.8" ry="3" fill="#fff" stroke="#666" stroke-width="0.9"/>
<ellipse cx="435.1" cy="457.4" rx="3.6" ry="1.4" fill="#fff" stroke="#666" stroke-width="0.7"/>
<ellipse cx="435.1" cy="457.4" rx="5.8" ry="2.1" fill="none" stroke="#777" stroke-width="0.6"/>
<line x1="410.6" y1="468.6" x2="427.3" y2="462.7" stroke="#6a6a6a" stroke-width="0.85"/>
<circle cx="403.7" cy="470.9" r="7.9" fill="#fff" stroke="#6a6a6a" stroke-width="0.95"/>
<text transform="translate(402.6,474.6) skewX(-2) scale(0.8,1)" text-anchor="middle" font-size="10.3" fill="#555" font-family="Liberation Sans, sans-serif" letter-spacing="-0.3">22</text>
<path d="M427.2,493 A7.9,3.4 0 0 0 443,493 L443,494 A7.9,3.4 0 0 1 427.2,494 Z" stroke="#666" stroke-width="0.9" fill="#999" stroke-linejoin="round"/>
<ellipse cx="435.1" cy="493" rx="7.9" ry="3.4" fill="#fff" stroke="#666" stroke-width="0.9"/>
<ellipse cx="435.1" cy="493" rx="4.6" ry="1.9" fill="#fff" stroke="#666" stroke-width="0.9"/>
<path d="M430.8,493 A4.3,1.3 0 0 1 439.4,493" stroke="#888" stroke-width="0.8" fill="none" stroke-linejoin="round"/>
<line x1="410.6" y1="499.4" x2="429.2" y2="493.5" stroke="#6a6a6a" stroke-width="0.85"/>
<circle cx="403.7" cy="502.4" r="7.9" fill="#fff" stroke="#6a6a6a" stroke-width="0.95"/>
<text transform="translate(402.6,506.1) skewX(-2) scale(0.8,1)" text-anchor="middle" font-size="10.3" fill="#555" font-family="Liberation Sans, sans-serif" letter-spacing="-0.3">23</text>
<path d="M424.1,521.5 L424.1,531.2 A10.9,3.4 0 0 0 445.9,531.2 L445.9,521.5 Z" stroke="#666" stroke-width="0.9" fill="#fff" stroke-linejoin="round"/>
<ellipse cx="435" cy="521.5" rx="10.9" ry="3.4" fill="#fff" stroke="#666" stroke-width="0.9"/>
<rect x="433.9" y="524.5" width="2.5" height="10" fill="#bbb"/>
<ellipse cx="435" cy="521.5" rx="10.9" ry="3.7" fill="#333" stroke="#333" stroke-width="0.9"/>
<ellipse cx="435" cy="521.9" rx="9.3" ry="2.6" fill="#8a8a8a" stroke="#666" stroke-width="0.5"/>
<line x1="429" y1="519.8" x2="429" y2="524" stroke="#666" stroke-width="0.4"/>
<line x1="432" y1="519.8" x2="432" y2="524" stroke="#666" stroke-width="0.4"/>
<line x1="435" y1="519.8" x2="435" y2="524" stroke="#666" stroke-width="0.4"/>
<line x1="438" y1="519.8" x2="438" y2="524" stroke="#666" stroke-width="0.4"/>
<line x1="441" y1="519.8" x2="441" y2="524" stroke="#666" stroke-width="0.4"/>
<line x1="410.8" y1="535.6" x2="424.3" y2="530" stroke="#6a6a6a" stroke-width="0.85"/>
<circle cx="403.4" cy="537.2" r="7.9" fill="#fff" stroke="#6a6a6a" stroke-width="0.95"/>
<text transform="translate(402.3,540.9) skewX(-2) scale(0.8,1)" text-anchor="middle" font-size="10.3" fill="#555" font-family="Liberation Sans, sans-serif" letter-spacing="-0.3">24</text>
<path d="M425.1,553.5 L425.1,571.6 C426,577 430,580 434.9,580.1 L446,584 L446,562.6 L445.6,553.5 Z" stroke="#666" stroke-width="0.9" fill="#fff" stroke-linejoin="round"/>
<path d="M426.4,566.3 C432,563 438,561.5 444.5,561" stroke="#666" stroke-width="0.7" fill="none" stroke-linejoin="round"/>
<ellipse cx="435.2" cy="553" rx="10" ry="3.2" fill="#fff" stroke="#444" stroke-width="1.0"/>
<ellipse cx="435.2" cy="553.4" rx="8.6" ry="2.4" fill="#555" stroke="#222" stroke-width="0.9"/>
<ellipse cx="435.2" cy="554.2" rx="7" ry="1.4" fill="#999" stroke="#777" stroke-width="0.4"/>
<g transform="translate(472,589.3) rotate(33.6)">
<rect x="0" y="-6.6" width="25" height="13.2" fill="#fff"/>
<path d="M1.2,-6.4 C3.3,-4 3.3,4 1.2,6.4" fill="none" stroke="#1a1a1a" stroke-width="1.35"/>
<path d="M1.2,-6.4 C0.2,-4 0.2,4 1.2,6.4" fill="none" stroke="#555" stroke-width="0.5"/>
<path d="M3.8,-6.4 C5.9,-4 5.9,4 3.8,6.4" fill="none" stroke="#1a1a1a" stroke-width="1.35"/>
<path d="M3.8,-6.4 C2.8,-4 2.8,4 3.8,6.4" fill="none" stroke="#555" stroke-width="0.5"/>
<path d="M6.4,-6.4 C8.5,-4 8.5,4 6.4,6.4" fill="none" stroke="#1a1a1a" stroke-width="1.35"/>
<path d="M6.4,-6.4 C5.4,-4 5.4,4 6.4,6.4" fill="none" stroke="#555" stroke-width="0.5"/>
<path d="M9,-6.4 C11.1,-4 11.1,4 9,6.4" fill="none" stroke="#1a1a1a" stroke-width="1.35"/>
<path d="M9,-6.4 C8,-4 8,4 9,6.4" fill="none" stroke="#555" stroke-width="0.5"/>
<path d="M11.6,-6.4 C13.7,-4 13.7,4 11.6,6.4" fill="none" stroke="#1a1a1a" stroke-width="1.35"/>
<path d="M11.6,-6.4 C10.6,-4 10.6,4 11.6,6.4" fill="none" stroke="#555" stroke-width="0.5"/>
<path d="M14.2,-6.4 C16.3,-4 16.3,4 14.2,6.4" fill="none" stroke="#1a1a1a" stroke-width="1.35"/>
<path d="M14.2,-6.4 C13.2,-4 13.2,4 14.2,6.4" fill="none" stroke="#555" stroke-width="0.5"/>
<path d="M16.8,-6.4 C18.9,-4 18.9,4 16.8,6.4" fill="none" stroke="#1a1a1a" stroke-width="1.35"/>
<path d="M16.8,-6.4 C15.8,-4 15.8,4 16.8,6.4" fill="none" stroke="#555" stroke-width="0.5"/>
<path d="M19.4,-6.4 C21.5,-4 21.5,4 19.4,6.4" fill="none" stroke="#1a1a1a" stroke-width="1.35"/>
<path d="M19.4,-6.4 C18.4,-4 18.4,4 19.4,6.4" fill="none" stroke="#555" stroke-width="0.5"/>
<path d="M22,-6.4 C24.1,-4 24.1,4 22,6.4" fill="none" stroke="#1a1a1a" stroke-width="1.35"/>
<path d="M22,-6.4 C21,-4 21,4 22,6.4" fill="none" stroke="#555" stroke-width="0.5"/>
<path d="M24.6,-6.4 C26.7,-4 26.7,4 24.6,6.4" fill="none" stroke="#1a1a1a" stroke-width="1.35"/>
<path d="M24.6,-6.4 C23.6,-4 23.6,4 24.6,6.4" fill="none" stroke="#555" stroke-width="0.5"/>
</g>
<polygon points="455,576.5 461.6,573.2 471,576 475.4,581.5 474.5,590 465.2,597.4 456.5,594.5 451.6,587.5" stroke="#666" stroke-width="0.9" fill="#fff" stroke-linejoin="round"/>
<line x1="455" y1="576.5" x2="457.5" y2="581.5" stroke="#666" stroke-width="0.7"/>
<line x1="451.6" y1="587.5" x2="457.5" y2="582" stroke="#666" stroke-width="0.7"/>
<line x1="461.6" y1="573.2" x2="459" y2="577.5" stroke="#666" stroke-width="0.7"/>
<ellipse cx="466" cy="586.5" rx="6.3" ry="9.3" transform="rotate(-11 466 586.5)" fill="#fff" stroke="#666" stroke-width="0.9"/>
<ellipse cx="468.5" cy="587.5" rx="4.6" ry="7.2" transform="rotate(-11 468.5 587.5)" fill="#fff" stroke="#666" stroke-width="0.7"/>
<polygon points="434.64,569.65 434.66,568.41 434.79,567.21 435.03,566.08 435.37,565.03 435.81,564.09 436.34,563.26 436.94,562.57 437.62,562.01 438.35,561.62 439.13,561.38 439.94,561.31 440.77,561.4 441.6,561.66 442.42,562.08 450.42,566.58 451.22,567.15 451.98,567.86 452.69,568.71 453.34,569.67 453.91,570.73 454.39,571.87 454.79,573.07 455.09,574.32 455.28,575.58 455.36,576.85 455.34,578.09 455.21,579.29 454.97,580.42 454.63,581.47 454.19,582.41 453.66,583.24 453.06,583.93 452.38,584.49 451.65,584.88 450.87,585.12 450.06,585.19 449.23,585.1 448.4,584.84 447.58,584.42 439.58,579.92 438.78,579.35 438.02,578.64 437.31,577.79 436.66,576.83 436.09,575.77 435.61,574.63 435.21,573.43 434.91,572.18 434.72,570.92" stroke="#333" stroke-width="0.8" fill="#707070" stroke-linejoin="round"/>
<path d="M444.9,562.9 C436,566.5 436,578.5 441.1,582.1" stroke="#aaa" stroke-width="0.5" fill="none" stroke-linejoin="round"/>
<path d="M446.9,563.9 C438,567.5 438,579.5 443.1,583.1" stroke="#aaa" stroke-width="0.5" fill="none" stroke-linejoin="round"/>
<path d="M448.9,564.9 C440,568.5 440,580.5 445.1,584.1" stroke="#aaa" stroke-width="0.5" fill="none" stroke-linejoin="round"/>
<ellipse cx="449" cy="575.5" rx="6.2" ry="9.8" transform="rotate(-11 449 575.5)" fill="#fff" stroke="#666" stroke-width="0.9"/>
<ellipse cx="449.8" cy="576" rx="4.3" ry="7.6" transform="rotate(-11 449.8 576)" fill="#fff" stroke="#666" stroke-width="0.8"/>
<path d="M447.5,569 C445.5,572 445.5,579 447.5,583" stroke="#444" stroke-width="1.1" fill="none" stroke-linejoin="round"/>
<line x1="410.8" y1="567.3" x2="426.3" y2="561.5" stroke="#6a6a6a" stroke-width="0.85"/>
<circle cx="403.4" cy="569.9" r="7.9" fill="#fff" stroke="#6a6a6a" stroke-width="0.95"/>
<text transform="translate(402.3,573.6) skewX(-2) scale(0.8,1)" text-anchor="middle" font-size="10.3" fill="#555" font-family="Liberation Sans, sans-serif" letter-spacing="-0.3">25</text>
<path d="M606.2,66.6 L606.2,247.6 A13.15,2.4 0 0 0 632.5,247.6 L632.5,66.6 Z" stroke="#666" stroke-width="0.9" fill="#fff" stroke-linejoin="round"/>
<ellipse cx="619.4" cy="66.6" rx="13.4" ry="4.1" fill="#fff" stroke="#666" stroke-width="0.9"/>
<path d="M606.2,68.4 A13.2,3.4 0 0 0 632.6,68.4" stroke="#777" stroke-width="0.7" fill="none" stroke-linejoin="round"/>
<path d="M609.4,249.5 L609.4,256.3 A9.85,2.3 0 0 0 629.1,256.3 L629.1,249.5 Z" stroke="#444" stroke-width="0.8" fill="#8a8a8a" stroke-linejoin="round"/>
<path d="M609.65,251.2 A9.6,1.8 0 0 0 628.85,251.2" stroke="#4a4a4a" stroke-width="0.9" fill="none" stroke-linejoin="round"/>
<path d="M609.65,253.2 A9.6,1.8 0 0 0 628.85,253.2" stroke="#4a4a4a" stroke-width="0.9" fill="none" stroke-linejoin="round"/>
<path d="M609.65,255.2 A9.6,1.8 0 0 0 628.85,255.2" stroke="#4a4a4a" stroke-width="0.9" fill="none" stroke-linejoin="round"/>
<path d="M609.55,256.6 A9.7,2.2 0 0 0 628.95,256.6" stroke="#222" stroke-width="1.4" fill="none" stroke-linejoin="round"/>
<path d="M617.4,80.4 Q627,80.2 632.5,77.4 L632.5,128.8 Q628,132.2 617.4,132.4 Z" stroke="#555" stroke-width="1.2" fill="#fff" stroke-linejoin="round"/>
<ellipse cx="623" cy="84" rx="1.6" ry="1.55" fill="#4a4a4a"/>
<ellipse cx="627.3" cy="83.3" rx="1.5" ry="1.6" fill="#333"/>
<ellipse cx="631.6" cy="82" rx="1.15" ry="1.8" fill="#111"/>
<ellipse cx="623" cy="89.1" rx="1.6" ry="1.55" fill="#4a4a4a"/>
<ellipse cx="627.3" cy="88.4" rx="1.5" ry="1.6" fill="#333"/>
<ellipse cx="631.6" cy="87.1" rx="1.15" ry="1.8" fill="#111"/>
<ellipse cx="623" cy="94.2" rx="1.6" ry="1.55" fill="#4a4a4a"/>
<ellipse cx="627.3" cy="93.5" rx="1.5" ry="1.6" fill="#333"/>
<ellipse cx="631.6" cy="92.2" rx="1.15" ry="1.8" fill="#111"/>
<ellipse cx="623" cy="99.3" rx="1.6" ry="1.55" fill="#4a4a4a"/>
<ellipse cx="627.3" cy="98.6" rx="1.5" ry="1.6" fill="#333"/>
<ellipse cx="631.6" cy="97.3" rx="1.15" ry="1.8" fill="#111"/>
<ellipse cx="623" cy="104.4" rx="1.6" ry="1.55" fill="#4a4a4a"/>
<ellipse cx="627.3" cy="103.7" rx="1.5" ry="1.6" fill="#333"/>
<ellipse cx="631.6" cy="102.4" rx="1.15" ry="1.8" fill="#111"/>
<ellipse cx="623" cy="109.5" rx="1.6" ry="1.55" fill="#4a4a4a"/>
<ellipse cx="627.3" cy="108.8" rx="1.5" ry="1.6" fill="#333"/>
<ellipse cx="631.6" cy="107.5" rx="1.15" ry="1.8" fill="#111"/>
<ellipse cx="623" cy="114.6" rx="1.6" ry="1.55" fill="#4a4a4a"/>
<ellipse cx="627.3" cy="113.9" rx="1.5" ry="1.6" fill="#333"/>
<ellipse cx="631.6" cy="112.6" rx="1.15" ry="1.8" fill="#111"/>
<ellipse cx="623" cy="119.7" rx="1.6" ry="1.55" fill="#4a4a4a"/>
<ellipse cx="627.3" cy="119" rx="1.5" ry="1.6" fill="#333"/>
<ellipse cx="631.6" cy="117.7" rx="1.15" ry="1.8" fill="#111"/>
<ellipse cx="623" cy="124.8" rx="1.6" ry="1.55" fill="#4a4a4a"/>
<ellipse cx="627.3" cy="124.1" rx="1.5" ry="1.6" fill="#333"/>
<ellipse cx="631.6" cy="122.8" rx="1.15" ry="1.8" fill="#111"/>
<ellipse cx="623" cy="129.9" rx="1.6" ry="1.55" fill="#4a4a4a"/>
<ellipse cx="627.3" cy="129.2" rx="1.5" ry="1.6" fill="#333"/>
<ellipse cx="631.6" cy="127.9" rx="1.15" ry="1.8" fill="#111"/>
<line x1="661.3" y1="190.5" x2="633" y2="180.2" stroke="#6a6a6a" stroke-width="0.85"/>
<circle cx="669.5" cy="193.3" r="7.9" fill="#fff" stroke="#6a6a6a" stroke-width="0.95"/>
<text transform="translate(668.4,197) skewX(-2) scale(0.8,1)" text-anchor="middle" font-size="10.3" fill="#555" font-family="Liberation Sans, sans-serif" letter-spacing="-0.3">27</text>
<path d="M613.6,320 L613.6,360.5 L627,360.5 L627,320 Z" fill="#fff"/>
<path d="M613.8,321.4 C614.5,325.6 626.5,325.4 626.9,321.8" fill="none" stroke="#3a3a3a" stroke-width="1.3"/>
<path d="M613.8,321.4 C614.5,319.2 626.5,319.4 626.9,321.8" fill="none" stroke="#555" stroke-width="0.8"/>
<path d="M614.2,323.8 C615,327 626,326.8 626.6,324" fill="none" stroke="#777" stroke-width="0.6"/>
<path d="M613.8,326.1 C614.5,330.3 626.5,330.1 626.9,326.5" fill="none" stroke="#3a3a3a" stroke-width="1.3"/>
<path d="M613.8,326.1 C614.5,323.9 626.5,324.1 626.9,326.5" fill="none" stroke="#555" stroke-width="0.8"/>
<path d="M614.2,328.5 C615,331.7 626,331.5 626.6,328.7" fill="none" stroke="#777" stroke-width="0.6"/>
<path d="M613.8,330.8 C614.5,335 626.5,334.8 626.9,331.2" fill="none" stroke="#3a3a3a" stroke-width="1.3"/>
<path d="M613.8,330.8 C614.5,328.6 626.5,328.8 626.9,331.2" fill="none" stroke="#555" stroke-width="0.8"/>
<path d="M614.2,333.2 C615,336.4 626,336.2 626.6,333.4" fill="none" stroke="#777" stroke-width="0.6"/>
<path d="M613.8,335.5 C614.5,339.7 626.5,339.5 626.9,335.9" fill="none" stroke="#3a3a3a" stroke-width="1.3"/>
<path d="M613.8,335.5 C614.5,333.3 626.5,333.5 626.9,335.9" fill="none" stroke="#555" stroke-width="0.8"/>
<path d="M614.2,337.9 C615,341.1 626,340.9 626.6,338.1" fill="none" stroke="#777" stroke-width="0.6"/>
<path d="M613.8,340.2 C614.5,344.4 626.5,344.2 626.9,340.6" fill="none" stroke="#3a3a3a" stroke-width="1.3"/>
<path d="M613.8,340.2 C614.5,338 626.5,338.2 626.9,340.6" fill="none" stroke="#555" stroke-width="0.8"/>
<path d="M614.2,342.6 C615,345.8 626,345.6 626.6,342.8" fill="none" stroke="#777" stroke-width="0.6"/>
<path d="M613.8,344.9 C614.5,349.1 626.5,348.9 626.9,345.3" fill="none" stroke="#3a3a3a" stroke-width="1.3"/>
<path d="M613.8,344.9 C614.5,342.7 626.5,342.9 626.9,345.3" fill="none" stroke="#555" stroke-width="0.8"/>
<path d="M614.2,347.3 C615,350.5 626,350.3 626.6,347.5" fill="none" stroke="#777" stroke-width="0.6"/>
<path d="M613.8,349.6 C614.5,353.8 626.5,353.6 626.9,350" fill="none" stroke="#3a3a3a" stroke-width="1.3"/>
<path d="M613.8,349.6 C614.5,347.4 626.5,347.6 626.9,350" fill="none" stroke="#555" stroke-width="0.8"/>
<path d="M614.2,352 C615,355.2 626,355 626.6,352.2" fill="none" stroke="#777" stroke-width="0.6"/>
<path d="M613.8,354.3 C614.5,358.5 626.5,358.3 626.9,354.7" fill="none" stroke="#3a3a3a" stroke-width="1.3"/>
<path d="M613.8,354.3 C614.5,352.1 626.5,352.3 626.9,354.7" fill="none" stroke="#555" stroke-width="0.8"/>
<path d="M614.2,356.7 C615,359.9 626,359.7 626.6,356.9" fill="none" stroke="#777" stroke-width="0.6"/>
<path d="M613.8,359 C614.5,363.2 626.5,363 626.9,359.4" fill="none" stroke="#3a3a3a" stroke-width="1.3"/>
<path d="M613.8,359 C614.5,356.8 626.5,357 626.9,359.4" fill="none" stroke="#555" stroke-width="0.8"/>
<path d="M614.2,361.4 C615,364.6 626,364.4 626.6,361.6" fill="none" stroke="#777" stroke-width="0.6"/>
<line x1="613.7" y1="321" x2="613.7" y2="360" stroke="#444" stroke-width="1.3"/>
<line x1="626.9" y1="321" x2="626.9" y2="359" stroke="#555" stroke-width="0.9"/>
<line x1="611" y1="362.3" x2="628.8" y2="360.6" stroke="#777" stroke-width="0.8"/>
<path d="M610.3,308 L610.3,317 Q611,320.5 620,321 Q629,320.5 629.4,317 L629.4,308 Z" stroke="#666" stroke-width="0.9" fill="#fff" stroke-linejoin="round"/>
<line x1="623" y1="318.5" x2="623" y2="321" stroke="#666" stroke-width="0.7"/>
<line x1="626" y1="318.5" x2="626" y2="321" stroke="#666" stroke-width="0.7"/>
<path d="M609.4,291.1 L609.4,308.5 A10.6,3.3 0 0 0 630.6,308.5 L630.6,291.1 Z" stroke="#666" stroke-width="0.9" fill="#fff" stroke-linejoin="round"/>
<ellipse cx="620" cy="291.1" rx="10.6" ry="3.3" fill="#fff" stroke="#666" stroke-width="0.9"/>
<path d="M609.4,305.5 A10.6,2.5 0 0 0 630.6,305.5 L630.6,307.8 A10.6,2.5 0 0 1 609.4,307.8 Z" stroke="#555" stroke-width="0.7" fill="#aaa" stroke-linejoin="round"/>
<ellipse cx="620" cy="291.1" rx="10.6" ry="3.3" fill="#fff" stroke="#666" stroke-width="0.9"/>
<ellipse cx="620" cy="291.5" rx="9.3" ry="2.5" fill="#6a6a6a" stroke="#333" stroke-width="0.6"/>
<path d="M611.5,291.8 A8.5,2 0 0 0 628.5,291.8" stroke="#999" stroke-width="0.5" fill="none" stroke-linejoin="round"/>
<line x1="661.5" y1="324.6" x2="630" y2="313.5" stroke="#6a6a6a" stroke-width="0.85"/>
<circle cx="669.4" cy="327.2" r="7.9" fill="#fff" stroke="#6a6a6a" stroke-width="0.95"/>
<text transform="translate(668.3,330.9) skewX(-2) scale(0.8,1)" text-anchor="middle" font-size="10.3" fill="#555" font-family="Liberation Sans, sans-serif" letter-spacing="-0.3">28</text>
<polygon points="588.41,377.8 616.46,370.41 639.59,387.15 639.59,388.62 632.21,416.18 618.43,413.72 615.48,419.63 588.91,416.67" stroke="#666" stroke-width="0.9" fill="#fff" stroke-linejoin="round"/>
<polyline points="588.41,377.8 621.88,391.57 615.48,419.63" stroke="#666" stroke-width="0.9" fill="none" stroke-linejoin="round"/>
<polyline points="591.37,379.57 619.61,390.79 612.53,419.13" stroke="#999" stroke-width="0.8" fill="none" stroke-linejoin="round"/>
<polyline points="588.41,377.8 588.91,416.67" stroke="#666" stroke-width="0.9" fill="none" stroke-linejoin="round"/>
<path d="M600.22,374.84 C602.19,376.81 603.18,381.24 607.11,382.72" stroke="#666" stroke-width="0.9" fill="none" stroke-linejoin="round"/>
<polyline points="606.62,374.06 607.61,382.72" stroke="#888" stroke-width="0.8" fill="none" stroke-linejoin="round"/>
<polyline points="609.38,374.35 610.07,383.7" stroke="#888" stroke-width="0.8" fill="none" stroke-linejoin="round"/>
<path d="M609.57,374.35 C618.43,374.35 623.85,378.78 624.34,388.62" stroke="#666" stroke-width="0.9" fill="none" stroke-linejoin="round"/>
<path d="M607.11,382.72 C611.54,385.67 617.45,388.62 623.35,390.79" stroke="#666" stroke-width="0.8" fill="none" stroke-linejoin="round"/>
<polyline points="624.34,388.62 618.43,413.72" stroke="#666" stroke-width="0.9" fill="none" stroke-linejoin="round"/>
<polyline points="625.32,381.93 626.31,414.21" stroke="#666" stroke-width="0.8" fill="none" stroke-linejoin="round"/>
<polyline points="625.32,381.73 636.15,388.13 639.59,388.62" stroke="#666" stroke-width="0.8" fill="none" stroke-linejoin="round"/>
<polyline points="636.15,388.13 629.26,415.39" stroke="#888" stroke-width="0.8" fill="none" stroke-linejoin="round"/>
<polyline points="618.43,413.72 632.21,416.18" stroke="#666" stroke-width="0.8" fill="none" stroke-linejoin="round"/>
<polyline points="615.48,419.63 618.43,413.72" stroke="#666" stroke-width="0.8" fill="none" stroke-linejoin="round"/>
<line x1="661.1" y1="415.6" x2="635.8" y2="405.3" stroke="#6a6a6a" stroke-width="0.85"/>
<circle cx="669.2" cy="418.1" r="7.9" fill="#fff" stroke="#6a6a6a" stroke-width="0.95"/>
<text transform="translate(668.1,421.8) skewX(-2) scale(0.8,1)" text-anchor="middle" font-size="10.3" fill="#555" font-family="Liberation Sans, sans-serif" letter-spacing="-0.3">29</text>
</svg>
</body></html>
